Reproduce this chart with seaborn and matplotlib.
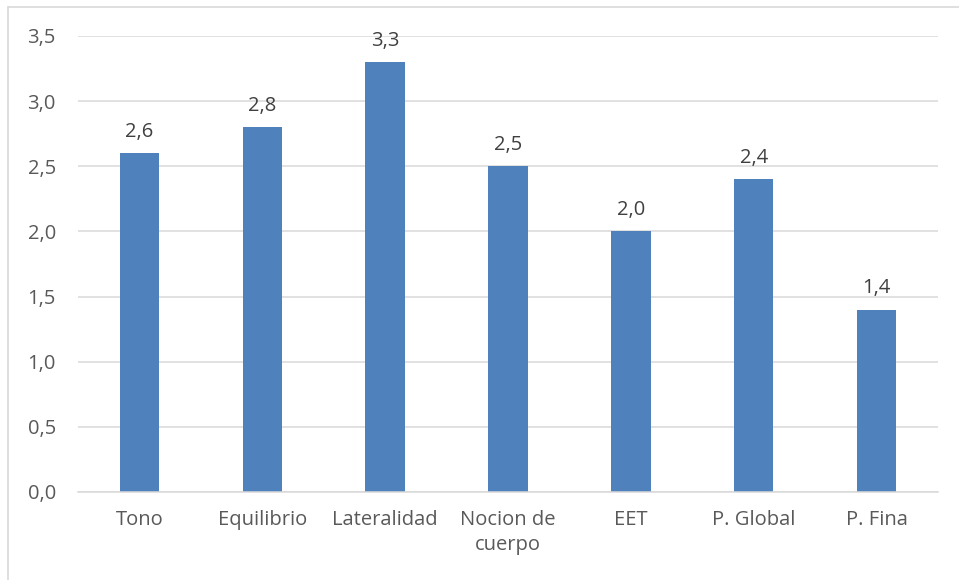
import matplotlib
matplotlib.use("Agg")
import matplotlib.pyplot as plt
from matplotlib.ticker import FuncFormatter, MultipleLocator
from matplotlib.lines import Line2D
import seaborn as sns
import pandas as pd

categories = ["Tono", "Equilibrio", "Lateralidad", "Nocion de\ncuerpo", "EET", "P. Global", "P. Fina"]
values = [2.6, 2.8, 3.3, 2.5, 2.0, 2.4, 1.4]

sns.set_theme(style="white")
plt.rcParams["font.family"] = ["Open Sans", "DejaVu Sans"]

text_color = "#595959"
bar_color = "#4F81BD"

df = pd.DataFrame({"categoria": categories, "valor": values})

fig = plt.figure(figsize=(9.59, 5.80), dpi=100)
ax = fig.add_axes([78 / 959, 88 / 580, 860 / 959, 456 / 580])

sns.barplot(data=df, x="categoria", y="valor", color=bar_color, saturation=1,
            width=0.32, ax=ax, edgecolor="none")

ax.set_ylim(0, 3.5)
ax.set_xlim(-0.5, len(categories) - 0.5)
ax.yaxis.set_major_locator(MultipleLocator(0.5))
ax.yaxis.set_major_formatter(FuncFormatter(lambda v, p: f"{v:.1f}".replace(".", ",")))
ax.grid(axis="y", color="#d9d9d9", linewidth=1.1)
ax.set_axisbelow(True)
for side in ["top", "right", "left"]:
    ax.spines[side].set_visible(False)
ax.spines["bottom"].set_color("#d9d9d9")
ax.spines["bottom"].set_linewidth(1.1)
ax.set_xlabel("")
ax.set_ylabel("")
ax.tick_params(axis="y", length=0, pad=16, labelsize=14.5, labelcolor=text_color)
ax.tick_params(axis="x", length=0, pad=13, labelsize=14.5, labelcolor=text_color)
for lbl in ax.get_xticklabels():
    lbl.set_horizontalalignment("center")
    lbl.set_multialignment("center")
    lbl.set_linespacing(1.35)

for i, v in enumerate(values):
    ax.annotate(f"{v:.1f}".replace(".", ","), xy=(i, v), xytext=(0, 8),
                textcoords="offset points", ha="center", va="bottom",
                fontsize=14.5, color="#404040")

# chart frame (top and left edges)
fig.add_artist(Line2D([7.5 / 959, 1.0], [1 - 7 / 580, 1 - 7 / 580], transform=fig.transFigure,
                      color="#d9d9d9", linewidth=1.2))
fig.add_artist(Line2D([7.5 / 959, 7.5 / 959], [0.0, 1 - 7 / 580], transform=fig.transFigure,
                      color="#d9d9d9", linewidth=1.2))

fig.savefig("out.png", dpi=100, facecolor="white")
